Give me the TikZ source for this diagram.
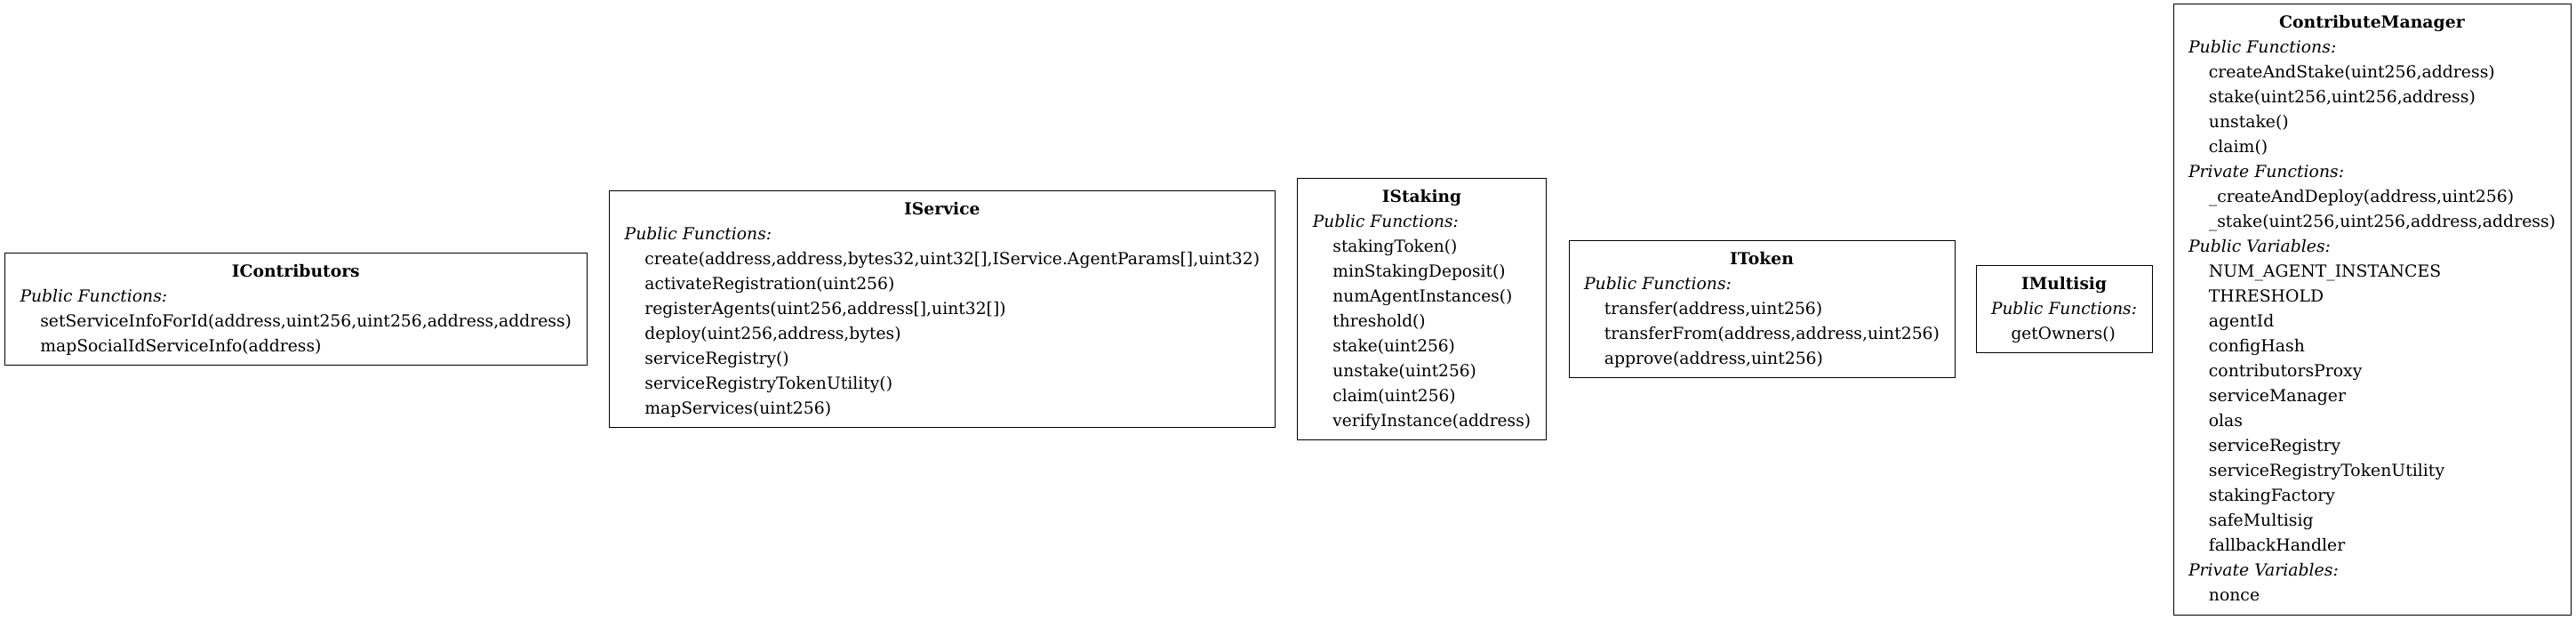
\documentclass[tikz,border=0pt]{standalone}
\usepackage{fontspec}
\setmainfont{DejaVu Serif}
\usepackage{graphicx}
\usetikzlibrary{positioning}

% class body: rows squeezed to the given width
\newcommand{\classbody}[2]{\resizebox{#1}{\height}{\begin{tabular}{@{}l@{}}#2\end{tabular}}}
\newcommand{\cname}[1]{\multicolumn{1}{@{}c@{}}{\textbf{#1}}}
\newcommand{\grp}[1]{\textit{#1}}
\newcommand{\member}[1]{\hspace*{17pt}#1}

\tikzset{
  umlclass/.style={draw, line width=0.75pt, inner sep=0pt, font=\fontsize{14}{21}\selectfont}
}

\begin{document}
\begin{tikzpicture}
  \useasboundingbox (0,0) rectangle (2173.5pt,522pt);

  \node[umlclass, minimum width=490.9pt, minimum height=94.5pt] (icontributors) at (249.6pt,261pt) {\classbody{465.4pt}{%
    \cname{IContributors}\\
    \grp{Public Functions:}\\
    \member{setServiceInfoForId(address,uint256,uint256,address,address)}\\
    \member{mapSocialIdServiceInfo(address)}}};

  \node[umlclass, minimum width=561.3pt, minimum height=199.5pt] (iservice) at (794.9pt,261pt) {\classbody{535.8pt}{%
    \cname{IService}\\
    \grp{Public Functions:}\\
    \member{create(address,address,bytes32,uint32[],IService.AgentParams[],uint32)}\\
    \member{activateRegistration(uint256)}\\
    \member{registerAgents(uint256,address[],uint32[])}\\
    \member{deploy(uint256,address,bytes)}\\
    \member{serviceRegistry()}\\
    \member{serviceRegistryTokenUtility()}\\
    \member{mapServices(uint256)}}};

  \node[umlclass, minimum width=209.3pt, minimum height=220.5pt] (istaking) at (1199.6pt,261pt) {\classbody{183.8pt}{%
    \cname{IStaking}\\
    \grp{Public Functions:}\\
    \member{stakingToken()}\\
    \member{minStakingDeposit()}\\
    \member{numAgentInstances()}\\
    \member{threshold()}\\
    \member{stake(uint256)}\\
    \member{unstake(uint256)}\\
    \member{claim(uint256)}\\
    \member{verifyInstance(address)}}};

  \node[umlclass, minimum width=325.5pt, minimum height=115.5pt] (itoken) at (1486.5pt,261pt) {\classbody{300pt}{%
    \cname{IToken}\\
    \grp{Public Functions:}\\
    \member{transfer(address,uint256)}\\
    \member{transferFrom(address,address,uint256)}\\
    \member{approve(address,uint256)}}};

  \node[umlclass, minimum width=148.5pt, minimum height=73.5pt] (imultisig) at (1741.5pt,261pt) {\classbody{123pt}{%
    \cname{IMultisig}\\
    \grp{Public Functions:}\\
    \member{getOwners()}}};

  \node[umlclass, minimum width=335.3pt, minimum height=514.5pt] (manager) at (2001.4pt,261pt) {\classbody{309.8pt}{%
    \cname{ContributeManager}\\
    \grp{Public Functions:}\\
    \member{createAndStake(uint256,address)}\\
    \member{stake(uint256,uint256,address)}\\
    \member{unstake()}\\
    \member{claim()}\\
    \grp{Private Functions:}\\
    \member{\_createAndDeploy(address,uint256)}\\
    \member{\_stake(uint256,uint256,address,address)}\\
    \grp{Public Variables:}\\
    \member{NUM\_AGENT\_INSTANCES}\\
    \member{THRESHOLD}\\
    \member{agentId}\\
    \member{configHash}\\
    \member{contributorsProxy}\\
    \member{serviceManager}\\
    \member{olas}\\
    \member{serviceRegistry}\\
    \member{serviceRegistryTokenUtility}\\
    \member{stakingFactory}\\
    \member{safeMultisig}\\
    \member{fallbackHandler}\\
    \grp{Private Variables:}\\
    \member{nonce}}};
\end{tikzpicture}
\end{document}
